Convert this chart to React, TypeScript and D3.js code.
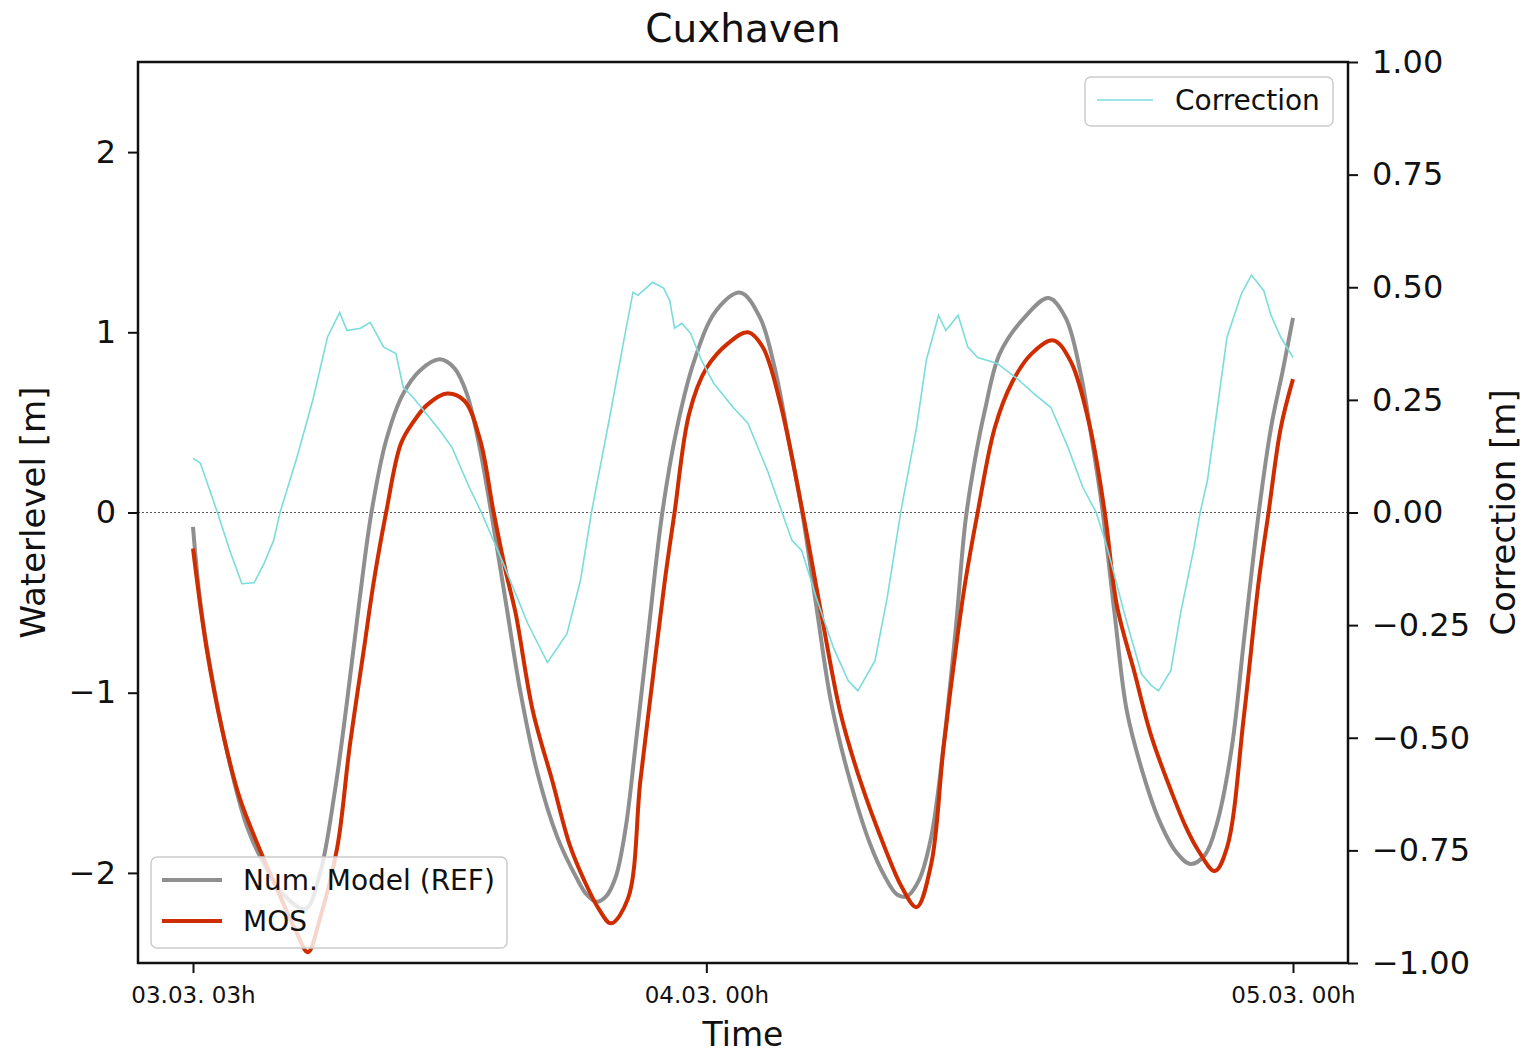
import * as d3 from "d3";
import { useEffect, useRef } from "react";

// hours after 03.03. 03h
const refHours = [0, 0.3, 0.8, 1.5, 2.2, 2.9, 3.7, 4.6, 5.2, 5.8, 6.3, 6.8, 7.3, 7.9, 8.6, 9.3, 10.1, 10.7, 11.2, 11.7, 12.2, 12.8, 13.4, 14.1, 14.9, 15.7, 16.1, 16.5, 16.9, 17.3, 17.7, 18.1, 18.6, 19.2, 19.8, 20.5, 21.4, 22.4, 23.2, 23.8, 24.4, 24.9, 25.5, 26.1, 26.8, 27.7, 28.3, 28.8, 29.2, 29.7, 30.2, 30.7, 31.2, 31.6, 32.0, 32.4, 33.0, 34.0, 35.0, 35.7, 36.3, 36.8, 37.2, 37.7, 38.2, 38.8, 39.5, 40.2, 40.8, 41.4, 41.9, 42.5, 43.0, 43.6, 44.1, 44.6, 45];
const refValues = [-0.08, -0.5, -0.93, -1.39, -1.74, -1.95, -2.12, -2.2, -2.0, -1.55, -1.05, -0.5, 0, 0.4, 0.66, 0.79, 0.85, 0.8, 0.66, 0.38, 0, -0.5, -1.0, -1.45, -1.8, -2.03, -2.12, -2.16, -2.13, -2.02, -1.75, -1.3, -0.7, 0, 0.47, 0.84, 1.12, 1.22, 1.08, 0.8, 0.38, 0.02, -0.52, -1.05, -1.45, -1.84, -2.02, -2.12, -2.13, -2.04, -1.8, -1.3, -0.65, -0.05, 0.3, 0.57, 0.88, 1.08, 1.19, 1.08, 0.78, 0.38, 0.02, -0.56, -1.1, -1.42, -1.7, -1.88, -1.95, -1.9, -1.72, -1.3, -0.7, 0, 0.47, 0.8, 1.08];

const mosHours = [0, 0.55, 1.2, 1.9, 2.7, 3.6, 4.2, 4.7, 5.2, 5.9, 6.4, 7.0, 7.4, 7.9, 8.5, 9.0, 9.6, 10.4, 11.1, 11.75, 12.3, 12.8, 13.2, 13.9, 14.7, 15.4, 16.0, 16.6, 17.1, 17.8, 18.3, 18.8, 19.3, 19.7, 20.3, 21.0, 21.9, 22.7, 23.3, 24.0, 24.9, 25.7, 26.5, 27.3, 28.3, 29.0, 29.6, 30.2, 30.7, 31.3, 31.6, 32.1, 32.8, 33.5, 34.3, 35.2, 35.9, 36.7, 37.3, 37.8, 38.5, 39.2, 40.0, 40.6, 41.1, 41.8, 42.3, 43.0, 43.6, 44.0, 44.5, 45];
const mosValues = [-0.2, -0.75, -1.21, -1.58, -1.86, -2.14, -2.32, -2.44, -2.25, -1.86, -1.31, -0.75, -0.38, 0, 0.38, 0.5, 0.6, 0.66, 0.62, 0.4, 0, -0.33, -0.56, -1.1, -1.49, -1.84, -2.04, -2.2, -2.28, -2.14, -1.49, -0.93, -0.38, 0, 0.55, 0.8, 0.94, 1.0, 0.92, 0.62, 0.03, -0.56, -1.12, -1.49, -1.86, -2.08, -2.19, -1.95, -1.31, -0.66, -0.38, 0, 0.47, 0.72, 0.88, 0.955, 0.84, 0.47, 0, -0.52, -0.88, -1.24, -1.54, -1.74, -1.87, -1.99, -1.86, -1.12, -0.38, 0, 0.47, 0.74];

const corrHours = [0, 0.3, 1.0, 1.5, 2.0, 2.5, 2.9, 3.3, 3.56, 4.25, 4.9, 5.5, 6.0, 6.3, 6.85, 7.25, 7.8, 8.3, 8.6, 9.0, 10.1, 10.6, 11.3, 11.8, 12.7, 13.7, 14.5, 15.3, 15.85, 16.3, 17.1, 17.6, 18.0, 18.2, 18.8, 19.25, 19.5, 19.7, 20.0, 20.35, 20.8, 21.3, 22.1, 22.7, 23.5, 24.1, 24.5, 24.9, 25.5, 26.2, 26.8, 27.2, 27.9, 28.4, 28.95, 29.6, 30.0, 30.5, 30.8, 31.3, 31.7, 32.1, 32.9, 33.7, 34.4, 35.1, 35.8, 36.4, 36.95, 37.4, 38.1, 38.8, 39.2, 39.5, 40.0, 40.4, 40.95, 41.2, 41.5, 42.3, 42.9, 43.3, 43.8, 44.1, 44.5, 45];
const corrValues = [0.12, 0.11, 0.0, -0.084, -0.158, -0.156, -0.114, -0.062, 0, 0.122, 0.249, 0.389, 0.444, 0.404, 0.409, 0.422, 0.367, 0.353, 0.278, 0.256, 0.182, 0.144, 0.056, 0, -0.114, -0.247, -0.333, -0.269, -0.151, 0, 0.227, 0.375, 0.489, 0.482, 0.511, 0.498, 0.471, 0.409, 0.42, 0.398, 0.338, 0.287, 0.233, 0.198, 0.093, 0, -0.062, -0.084, -0.189, -0.3, -0.373, -0.396, -0.329, -0.189, 0, 0.189, 0.338, 0.438, 0.404, 0.438, 0.367, 0.344, 0.331, 0.298, 0.264, 0.233, 0.144, 0.056, 0, -0.078, -0.224, -0.358, -0.384, -0.396, -0.351, -0.224, -0.078, 0, 0.071, 0.389, 0.487, 0.527, 0.493, 0.438, 0.389, 0.344];

const xTickHours = [0, 21, 45];
const xTickLabels = ["03.03. 03h", "04.03. 00h", "05.03. 00h"];
const leftTicks = [-2, -1, 0, 1, 2];
const rightTicks = [-1, -0.75, -0.5, -0.25, 0, 0.25, 0.5, 0.75, 1];

const W = 1526;
const H = 1055;
const FONT = "DejaVu Sans, sans-serif";
const GREY = "#8f8f8f";
const RED = "#cf2d00";
const CYAN = "#7adcdc";

export default function App() {
  const ref = useRef<SVGSVGElement | null>(null);

  useEffect(() => {
    if (!ref.current) return;
    const margin = { top: 62, right: 178, bottom: 92, left: 138 };
    const x0 = margin.left;
    const x1 = W - margin.right;
    const y0 = margin.top;
    const y1 = H - margin.bottom;

    const x = d3.scaleLinear().domain([-2.25, 47.25]).range([x0, x1]);
    const yL = d3.scaleLinear().domain([-2.5, 2.5]).range([y1, y0]);
    const yR = d3.scaleLinear().domain([-1, 1]).range([y1, y0]);

    const svg = d3.select(ref.current);
    svg.selectAll("*").remove();
    svg.append("rect").attr("width", W).attr("height", H).attr("fill", "#fff");

    const clip = svg.append("defs").append("clipPath").attr("id", "plot");
    clip.append("rect").attr("x", x0).attr("y", y0).attr("width", x1 - x0).attr("height", y1 - y0);

    const minus = (s: string) => s.replace("-", "\u2212");

    // zero line
    svg
      .append("line")
      .attr("x1", x0)
      .attr("x2", x1)
      .attr("y1", yL(0))
      .attr("y2", yL(0))
      .attr("stroke", "#555")
      .attr("stroke-width", 1.2)
      .attr("stroke-dasharray", "2,2");

    const plot = svg.append("g").attr("clip-path", "url(#plot)");

    const line = d3
      .line<[number, number]>()
      .x((d) => x(d[0]))
      .y((d) => yL(d[1]))
      .curve(d3.curveCatmullRom.alpha(0.5));

    const refPts = refHours.map((h, i) => [h, refValues[i]] as [number, number]);
    const mosPts = mosHours.map((h, i) => [h, mosValues[i]] as [number, number]);
    const corrPts = corrHours.map((h, i) => [h, corrValues[i]] as [number, number]);

    plot.append("path").attr("d", line(refPts)).attr("fill", "none").attr("stroke", GREY).attr("stroke-width", 4);
    plot.append("path").attr("d", line(mosPts)).attr("fill", "none").attr("stroke", RED).attr("stroke-width", 4);

    // main legend
    const lg = svg.append("g");
    lg.append("rect")
      .attr("x", 151)
      .attr("y", 857)
      .attr("width", 356)
      .attr("height", 91)
      .attr("rx", 6)
      .attr("fill", "#fff")
      .attr("fill-opacity", 0.8)
      .attr("stroke", "#cccccc")
      .attr("stroke-width", 1.5);
    const entries = [
      { label: "Num. Model (REF)", color: GREY, y: 880 },
      { label: "MOS", color: RED, y: 921 },
    ];
    entries.forEach((e) => {
      lg.append("line").attr("x1", 162).attr("x2", 222).attr("y1", e.y).attr("y2", e.y).attr("stroke", e.color).attr("stroke-width", 4);
      lg.append("text")
        .attr("x", 243)
        .attr("y", e.y)
        .attr("dy", "0.36em")
        .attr("font-family", FONT)
        .attr("font-size", 28)
        .attr("fill", "#111")
        .text(e.label);
    });

    // correction on twin axis
    const lineR = d3
      .line<[number, number]>()
      .x((d) => x(d[0]))
      .y((d) => yR(d[1]));
    plot.append("path").attr("d", lineR(corrPts)).attr("fill", "none").attr("stroke", CYAN).attr("stroke-width", 1.6);

    const lr = svg.append("g");
    lr.append("rect")
      .attr("x", 1085)
      .attr("y", 77)
      .attr("width", 248)
      .attr("height", 49)
      .attr("rx", 6)
      .attr("fill", "#fff")
      .attr("fill-opacity", 0.8)
      .attr("stroke", "#cccccc")
      .attr("stroke-width", 1.5);
    lr.append("line").attr("x1", 1097).attr("x2", 1153).attr("y1", 100).attr("y2", 100).attr("stroke", CYAN).attr("stroke-width", 1.6);
    lr.append("text")
      .attr("x", 1175)
      .attr("y", 100)
      .attr("dy", "0.36em")
      .attr("font-family", FONT)
      .attr("font-size", 28)
      .attr("fill", "#111")
      .text("Correction");

    // frame
    svg
      .append("rect")
      .attr("x", x0)
      .attr("y", y0)
      .attr("width", x1 - x0)
      .attr("height", y1 - y0)
      .attr("fill", "none")
      .attr("stroke", "#111")
      .attr("stroke-width", 2.5);

    const styleAxis = (g: d3.Selection<SVGGElement, unknown, null, undefined>, size: number) => {
      g.select(".domain").remove();
      g.selectAll(".tick line").attr("stroke", "#111").attr("stroke-width", 2);
      g.selectAll(".tick text").attr("font-family", FONT).attr("font-size", size).attr("fill", "#111");
    };

    const gx = svg
      .append("g")
      .attr("transform", `translate(0,${y1})`)
      .call(
        d3
          .axisBottom(x)
          .tickValues(xTickHours)
          .tickSize(10)
          .tickPadding(14)
          .tickFormat((_d, i) => xTickLabels[i])
      );
    styleAxis(gx, 23);

    const gl = svg
      .append("g")
      .attr("transform", `translate(${x0},0)`)
      .call(
        d3
          .axisLeft(yL)
          .tickValues(leftTicks)
          .tickSize(10)
          .tickPadding(12)
          .tickFormat((d) => minus(d3.format("d")(d as number)))
      );
    styleAxis(gl, 32);

    const gr = svg
      .append("g")
      .attr("transform", `translate(${x1},0)`)
      .call(
        d3
          .axisRight(yR)
          .tickValues(rightTicks)
          .tickSize(10)
          .tickPadding(14)
          .tickFormat((d) => minus(d3.format(".2f")(d as number)))
      );
    styleAxis(gr, 32);

    // labels
    svg
      .append("text")
      .attr("x", (x0 + x1) / 2)
      .attr("y", 42)
      .attr("text-anchor", "middle")
      .attr("font-family", FONT)
      .attr("font-size", 39)
      .attr("fill", "#111")
      .text("Cuxhaven");
    svg
      .append("text")
      .attr("x", (x0 + x1) / 2)
      .attr("y", 1046)
      .attr("text-anchor", "middle")
      .attr("font-family", FONT)
      .attr("font-size", 33)
      .attr("fill", "#111")
      .text("Time");
    svg
      .append("text")
      .attr("transform", `translate(45,${yL(0)}) rotate(-90)`)
      .attr("text-anchor", "middle")
      .attr("font-family", FONT)
      .attr("font-size", 34)
      .attr("fill", "#111")
      .text("Waterlevel [m]");
    svg
      .append("text")
      .attr("transform", `translate(1515,${yR(0)}) rotate(-90)`)
      .attr("text-anchor", "middle")
      .attr("font-family", FONT)
      .attr("font-size", 34)
      .attr("fill", "#111")
      .text("Correction [m]");
  }, []);

  return (
    <svg
      ref={ref}
      width={W}
      height={H}
      style={{ position: "absolute", left: 0, top: 0, display: "block" }}
      role="img"
      aria-label="Cuxhaven waterlevel"
    />
  );
}
